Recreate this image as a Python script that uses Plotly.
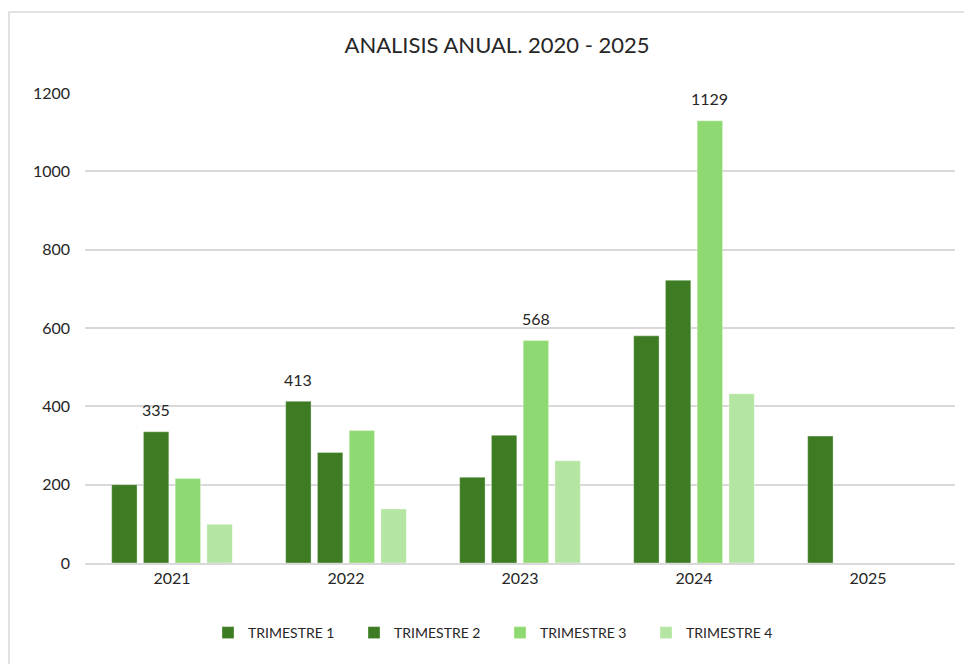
import plotly.graph_objects as go

# data
years = ["2021", "2022", "2023", "2024", "2025"]
trimestre_1 = [200, 413, 219, 580, 324]
trimestre_2 = [335, 282, 326, 722, None]
trimestre_3 = [216, 338, 568, 1129, None]
trimestre_4 = [99, 138, 261, 432, None]
series_names = ["TRIMESTRE 1", "TRIMESTRE 2", "TRIMESTRE 3", "TRIMESTRE 4"]
# only the yearly maximum carries a label
labelled = {"2021": 1, "2022": 0, "2023": 2, "2024": 2}

colors = ["#3d7c23", "#3d7c23", "#8fd972", "#b5e5a2"]
font_family = "Lato, 'Liberation Sans', sans-serif"

W, H = 972, 664
OFF = 8  # page body margin
L, R, T, B = 85 - OFF, 972 - 955 + OFF, 93 - OFF, 664 - 563 + OFF
pw, ph = W - L - R, H - T - B
BARGAP = 0.27

series = [trimestre_1, trimestre_2, trimestre_3, trimestre_4]

fig = go.Figure()
for vals, name, color in zip(series, series_names, colors):
    fig.add_trace(go.Bar(
        x=years, y=vals, name=name,
        marker=dict(color=color, line=dict(color="rgba(255,255,255,0.35)", width=1)),
    ))

# data labels, placed a little above the bar like Excel does
# (category index used for x: year strings look numeric to annotations)
slot = pw / len(years) * (1 - BARGAP) / len(series)
for yr, i in labelled.items():
    k = years.index(yr)
    v = series[i][k]
    fig.add_annotation(x=k, y=v, text=str(v), showarrow=False,
                       xshift=(i - 1.5) * slot, yshift=22,
                       font=dict(size=16, color="#262626", family=font_family))

# outer chart frame
fig.add_shape(type="rect", xref="paper", yref="paper",
              x0=(1 - L) / pw, x1=(W + 5 - L) / pw,
              y0=(H - B - (H + 5)) / ph, y1=(H - B - (12 - OFF)) / ph,
              line=dict(color="#d9d9d9", width=1.5), fillcolor="rgba(0,0,0,0)",
              layer="below")

fig.update_layout(
    width=W, height=H,
    margin=dict(l=L, r=R, t=T, b=B),
    paper_bgcolor="white", plot_bgcolor="white",
    title=dict(text="ANALISIS ANUAL. 2020 - 2025", x=(497 - OFF) / W, xanchor="center",
               y=1 - (45 - OFF) / H, yanchor="middle",
               font=dict(size=22, color="#262626", family=font_family)),
    font=dict(family=font_family, size=15, color="#404040"),
    barmode="group", bargap=BARGAP, bargroupgap=0.2,
    showlegend=True,
    legend=dict(orientation="h", x=(500 - OFF - L) / pw, xanchor="center",
                y=(H - B - (633 - OFF)) / ph, yanchor="middle",
                entrywidth=101, itemwidth=30,
                font=dict(size=14, color="#262626"), traceorder="normal"),
)
fig.update_xaxes(type="category", range=[-0.5, len(years) - 0.5],
                 showline=True, linecolor="#d9d9d9", linewidth=1.5,
                 tickfont=dict(size=16, color="#262626"), ticks="", showgrid=False)
fig.update_yaxes(range=[0, 1200], dtick=200, gridcolor="#d9d9d9", gridwidth=1.5,
                 tickfont=dict(size=16, color="#262626"), zeroline=False,
                 ticklabelstandoff=14)

fig.write_html("out.html")
